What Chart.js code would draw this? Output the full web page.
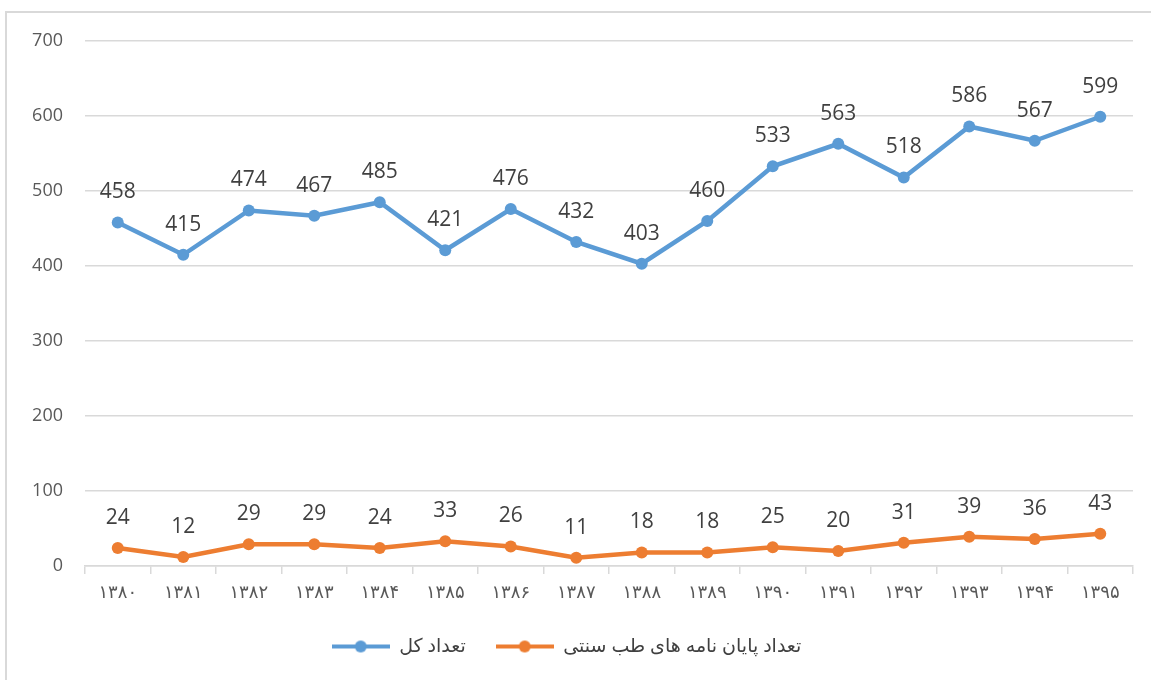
<!DOCTYPE html>
<html>
<head>
<meta charset="utf-8">
<script src="https://cdn.jsdelivr.net/npm/chart.js@4/dist/chart.umd.min.js"></script>
<style>
  html, body { margin: 0; padding: 0; background: #fff; }
  #wrap { position: relative; width: 1151px; height: 680px; }
</style>
</head>
<body>
<div id="wrap"><canvas id="grafico"></canvas></div>
<script>
// datos
const years = ['۱۳۸۰', '۱۳۸۱', '۱۳۸۲', '۱۳۸۳', '۱۳۸۴', '۱۳۸۵', '۱۳۸۶', '۱۳۸۷',
               '۱۳۸۸', '۱۳۸۹', '۱۳۹۰', '۱۳۹۱', '۱۳۹۲', '۱۳۹۳', '۱۳۹۴', '۱۳۹۵'];
const totalCount = [458, 415, 474, 467, 485, 421, 476, 432, 403, 460, 533, 563, 518, 586, 567, 599];
const tmCount = [24, 12, 29, 29, 24, 33, 26, 11, 18, 18, 25, 20, 31, 39, 36, 43];
const totalLabel = 'تعداد کل';
const tmLabel = 'تعداد پایان نامه های طب سنتی';

const BLUE = '#5B9BD5';
const ORANGE = '#ED7D31';
const FONT = '"Open Sans", "DejaVu Sans", sans-serif';

// icono de leyenda: linea con punto
function legendIcon(color) {
    const c = document.createElement('canvas');
    c.width = 58; c.height = 14;
    const g = c.getContext('2d');
    g.strokeStyle = color; g.lineWidth = 4;
    g.beginPath(); g.moveTo(0, 7); g.lineTo(58, 7); g.stroke();
    g.fillStyle = color;
    g.beginPath(); g.arc(29, 7, 6, 0, Math.PI * 2); g.fill();
    return c;
}

// etiquetas de valores sobre los puntos
const valueLabels = {
    id: 'valueLabels',
    afterDatasetsDraw(chart) {
        const ctx = chart.ctx;
        ctx.save();
        ctx.font = '21px ' + FONT;
        ctx.fillStyle = '#404040';
        ctx.textAlign = 'center';
        ctx.textBaseline = 'middle';
        chart.data.datasets.forEach((ds, i) => {
            chart.getDatasetMeta(i).data.forEach((pt, j) => {
                ctx.fillText(String(ds.data[j]), pt.x, pt.y - 30);
            });
        });
        ctx.restore();
    }
};

// marco gris (borde superior e izquierdo)
const frame = {
    id: 'frame',
    beforeDraw(chart) {
        const ctx = chart.ctx;
        ctx.save();
        ctx.strokeStyle = '#d9d9d9';
        ctx.lineWidth = 2;
        ctx.beginPath();
        ctx.moveTo(6, 680); ctx.lineTo(6, 12); ctx.lineTo(1151, 12);
        ctx.stroke();
        ctx.restore();
    }
};

new Chart(document.getElementById('grafico'), {
    type: 'line',
    data: {
        labels: years,
        datasets: [{
            label: totalLabel,
            data: totalCount,
            borderColor: BLUE,
            backgroundColor: BLUE,
            borderWidth: 4.5,
            pointRadius: 6,
            pointBorderWidth: 0,
            pointStyle: 'circle',
            fill: false,
            tension: 0
        }, {
            label: tmLabel,
            data: tmCount,
            borderColor: ORANGE,
            backgroundColor: ORANGE,
            borderWidth: 4.5,
            pointRadius: 6,
            pointBorderWidth: 0,
            fill: false,
            tension: 0
        }]
    },
    options: {
        responsive: true,
        maintainAspectRatio: false,
        animation: false,
        layout: { padding: { left: 0, right: 18, top: 41, bottom: 14 } },
        scales: {
            x: {
                offset: true,
                grid: { display: true, drawOnChartArea: false, offset: true, tickLength: 8, color: '#d9d9d9', lineWidth: 1.5 },
                border: { color: '#d9d9d9', width: 1.5 },
                ticks: { color: '#595959', font: { size: 18, family: FONT }, padding: 8, maxRotation: 0 },
                afterFit(scale) { scale.height = 41; }
            },
            y: {
                min: 0, max: 700,
                ticks: { stepSize: 100, color: '#595959', font: { size: 18, family: FONT }, padding: 22 },
                grid: { color: '#d9d9d9', lineWidth: 1.5, drawTicks: false },
                border: { display: false },
                afterFit(scale) { scale.width = 85; }
            }
        },
        plugins: {
            legend: {
                position: 'bottom',
                labels: {
                    color: '#404040',
                    font: { size: 19, family: FONT },
                    usePointStyle: true,
                    pointStyleWidth: 58,
                    padding: 30,
                    generateLabels(chart) {
                        return chart.data.datasets.map((ds, i) => ({
                            text: ds.label,
                            fillStyle: ds.borderColor,
                            strokeStyle: ds.borderColor,
                            lineWidth: 0,
                            pointStyle: legendIcon(ds.borderColor),
                            datasetIndex: i,
                            hidden: false,
                            fontColor: '#404040'
                        }));
                    }
                }
            },
            tooltip: { enabled: false }
        }
    },
    plugins: [valueLabels, frame]
});
</script>
</body>
</html>
